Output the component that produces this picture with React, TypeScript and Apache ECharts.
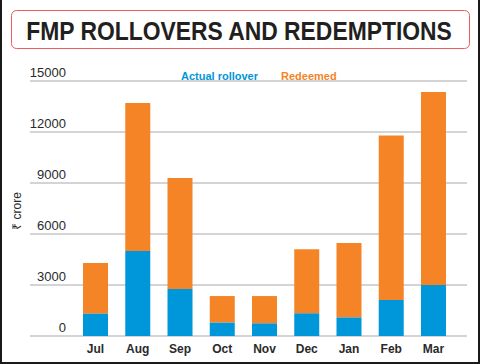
import React, { useEffect, useRef } from "react";
import * as echarts from "echarts";

const months = ["Jul", "Aug", "Sep", "Oct", "Nov", "Dec", "Jan", "Feb", "Mar"];
const actualRollover = [1330, 5000, 2760, 800, 750, 1340, 1100, 2120, 3000];
const redeemed = [2970, 8700, 6540, 1550, 1600, 3760, 4370, 9680, 11350];
const yTicks = { min: 0, max: 15000, interval: 3000 };
const seriesNames = ["Actual rollover", "Redeemed"];
const titleText = "FMP ROLLOVERS AND REDEMPTIONS";
const unitText = "₹ crore";

const BLUE = "#0096da";
const ORANGE = "#f58426";
const FONT = "'Liberation Sans', Arial, sans-serif";

export default function App() {
  const ref = useRef<HTMLDivElement>(null);
  useEffect(() => {
    document.body.style.margin = "0";
    const chart = echarts.init(ref.current!, null, { renderer: "svg" });
    chart.setOption({
      animation: false,
      backgroundColor: "#ffffff",
      legend: {
        top: 64,
        left: 171,
        icon: "none",
        itemWidth: 0,
        itemHeight: 14,
        itemGap: 18,
        selectedMode: false,
        textStyle: { fontFamily: FONT, fontSize: 11, fontWeight: "bold" },
        data: [
          { name: seriesNames[0], textStyle: { color: BLUE } },
          { name: seriesNames[1], textStyle: { color: ORANGE } },
        ],
      },
      grid: [
        { left: 30, right: 13, top: 81, bottom: 28 },
        { left: 74.4, right: 25.4, top: 81, bottom: 28 },
      ],
      xAxis: [
        { gridIndex: 0, type: "value", show: false, min: 0, max: 1 },
        {
          gridIndex: 1,
          type: "category",
          data: months,
          axisLine: { show: false },
          axisTick: { show: false },
          axisLabel: {
            margin: 7,
            color: "#2a2a2a",
            fontFamily: FONT,
            fontSize: 12,
            fontWeight: "bold",
          },
        },
      ],
      yAxis: [
        {
          gridIndex: 0,
          type: "value",
          min: yTicks.min,
          max: yTicks.max,
          interval: yTicks.interval,
          axisLine: { show: false },
          axisTick: { show: false },
          splitLine: { show: true, lineStyle: { color: "#c6c6c8", width: 1.6 } },
          axisLabel: {
            inside: true,
            margin: 36,
            align: "right",
            verticalAlign: "bottom",
            padding: [0, 0, 2, 0],
            color: "#2a2a2a",
            fontFamily: FONT,
            fontSize: 13,
            formatter: (v: number) => String(v),
          },
        },
        {
          gridIndex: 1,
          type: "value",
          min: yTicks.min,
          max: yTicks.max,
          interval: yTicks.interval,
          show: false,
          splitLine: { show: false },
        },
      ],
      series: [
        {
          name: seriesNames[0],
          type: "bar",
          stack: "total",
          xAxisIndex: 1,
          yAxisIndex: 1,
          barWidth: 25,
          itemStyle: { color: BLUE },
          data: actualRollover,
        },
        {
          name: seriesNames[1],
          type: "bar",
          stack: "total",
          xAxisIndex: 1,
          yAxisIndex: 1,
          barWidth: 25,
          itemStyle: { color: ORANGE },
          data: redeemed,
        },
      ],
      graphic: [
        { type: "rect", shape: { x: 0, y: 0, width: 2, height: 364 }, style: { fill: "#1a1a1a" } },
        { type: "rect", shape: { x: 478, y: 0, width: 2, height: 364 }, style: { fill: "#1a1a1a" } },
        { type: "rect", shape: { x: 0, y: 362, width: 480, height: 2 }, style: { fill: "#1a1a1a" } },
        {
          type: "rect",
          shape: { x: 11.5, y: 10.5, width: 458, height: 38, r: 5 },
          style: { fill: "none", stroke: "#ee5a5e", lineWidth: 1 },
        },
        {
          type: "text",
          x: 239,
          y: 31,
          scaleX: 0.915,
          style: {
            text: titleText,
            fill: "#231f20",
            font: `bold 25px ${FONT}`,
            textAlign: "center",
            textVerticalAlign: "middle",
          },
        },
        {
          type: "text",
          x: 17,
          y: 211,
          rotation: Math.PI / 2,
          style: {
            text: unitText,
            fill: "#2a2a2a",
            font: `12px ${FONT}`,
            textAlign: "center",
            textVerticalAlign: "middle",
          },
        },
      ],
    });
    return () => chart.dispose();
  }, []);
  return (
    <div
      ref={ref}
      style={{ position: "fixed", left: 0, top: 0, width: 480, height: 364 }}
    />
  );
}
